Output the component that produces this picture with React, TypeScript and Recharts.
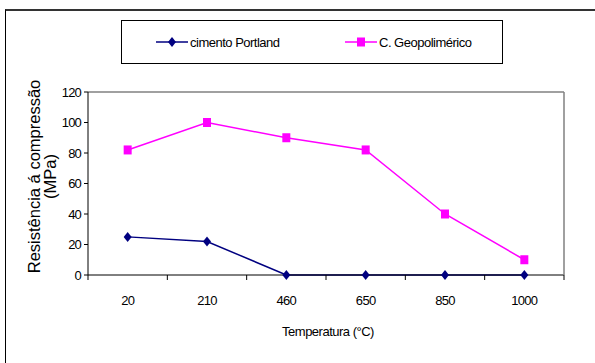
import { LineChart, Line, XAxis, YAxis, Legend, ReferenceLine } from "recharts";

// ── data ──────────────────────────────────────────────
const temperatures = ["20", "210", "460", "650", "850", "1000"];
const portland = [25, 22, 0, 0, 0, 0];
const geopolimerico = [82, 100, 90, 82, 40, 10];
const yTicks = [0, 20, 40, 60, 80, 100, 120];
const seriesNames = ["cimento Portland", "C. Geopolimérico"];
const xTitle = "Temperatura (°C)";
const yTitle = ["Resistência á compressão", "(MPa)"];

const data = temperatures.map((t, i) => ({
  t,
  portland: portland[i],
  geo: geopolimerico[i],
}));

const FONT = "'Liberation Sans', Arial, sans-serif";
const NAVY = "#000080";
const MAGENTA = "#FF00FF";

// ── markers ───────────────────────────────────────────
function Diamond(props: any) {
  const { cx, cy } = props;
  if (cx == null || cy == null) return null;
  return (
    <path
      d={`M${cx},${cy - 5}L${cx + 4},${cy}L${cx},${cy + 5}L${cx - 4},${cy}Z`}
      fill={NAVY}
    />
  );
}

function Square(props: any) {
  const { cx, cy } = props;
  if (cx == null || cy == null) return null;
  return <rect x={cx - 4} y={cy - 4.5} width={8} height={9} fill={MAGENTA} />;
}

// ── axis pieces ───────────────────────────────────────
function XTick(props: any) {
  const { x, y, payload, index, visibleTicksCount } = props;
  const count = visibleTicksCount ?? temperatures.length;
  const band = (typeof props.width === "number" ? props.width : 476) / count;
  const left = x - band / 2;
  return (
    <g>
      <line x1={left} y1={y} x2={left} y2={y + 5} stroke="#000" />
      {index === count - 1 && (
        <line x1={x + band / 2} y1={y} x2={x + band / 2} y2={y + 5} stroke="#000" />
      )}
      <text
        x={x}
        y={y + 25}
        textAnchor="middle"
        dominantBaseline="central"
        fontSize={13}
        letterSpacing={-0.7}
        fontFamily={FONT}
        fill="#000"
      >
        {payload.value}
      </text>
    </g>
  );
}

function XTitle(props: any) {
  const vb = props.viewBox ?? { x: 88, y: 275, width: 476 };
  return (
    <text
      x={vb.x + vb.width / 2 + 2}
      y={vb.y + 56}
      textAnchor="middle"
      dominantBaseline="central"
      fontSize={13}
      letterSpacing={-0.5}
      fontFamily={FONT}
      fill="#000"
    >
      {xTitle}
    </text>
  );
}

function YTitle(props: any) {
  const vb = props.viewBox ?? { x: 0, y: 92, height: 183 };
  const cy = vb.y + vb.height / 2 - 7;
  return (
    <g>
      {yTitle.map((line, i) => {
        const cx = 40 + i * 16;
        return (
          <text
            key={line}
            x={cx}
            y={cy}
            transform={`rotate(-90, ${cx}, ${cy})`}
            textAnchor="middle"
            fontSize={16.5}
            fontFamily={FONT}
            fill="#000"
          >
            {line}
          </text>
        );
      })}
    </g>
  );
}

// ── legend ────────────────────────────────────────────
function LegendBox() {
  const items = [
    { name: seriesNames[0], color: NAVY, shape: "diamond", left: 34 },
    { name: seriesNames[1], color: MAGENTA, shape: "square", left: 223 },
  ];
  return (
    <div
      style={{
        position: "relative",
        width: 382,
        height: 44,
        border: "1px solid #000",
        boxSizing: "border-box",
        background: "#fff",
        fontFamily: FONT,
      }}
    >
      {items.map((it) => (
        <div
          key={it.name}
          style={{
            position: "absolute",
            left: it.left,
            top: 0,
            height: 42,
            display: "flex",
            alignItems: "center",
            whiteSpace: "nowrap",
          }}
        >
          <svg width={32} height={12} style={{ display: "block" }}>
            <line x1={0} y1={6} x2={32} y2={6} stroke={it.color} strokeWidth={1.5} />
            {it.shape === "diamond" ? (
              <path d="M16,1L20,6L16,11L12,6Z" fill={it.color} />
            ) : (
              <rect x={12} y={1.5} width={8} height={9} fill={it.color} />
            )}
          </svg>
          <span style={{ fontSize: 13, letterSpacing: -0.5, marginLeft: 2, color: "#000" }}>
            {it.name}
          </span>
        </div>
      ))}
    </div>
  );
}

export default function App() {
  return (
    <div
      style={{
        position: "absolute",
        left: 0,
        top: 0,
        width: 595,
        height: 363,
        overflow: "hidden",
        background: "#fff",
        fontFamily: FONT,
      }}
    >
      {/* outer frame */}
      <div
        style={{
          position: "absolute",
          left: 5,
          top: 9,
          width: 700,
          height: 500,
          borderTop: "2px solid #333",
          borderLeft: "1px solid #000",
        }}
      />
      <LineChart
        width={595}
        height={363}
        data={data}
        margin={{ top: 92, right: 30, bottom: 0, left: 0 }}
        style={{ position: "absolute", left: 0, top: 0 }}
      >
        <ReferenceLine y={120} stroke="#808080" strokeWidth={1.5} />
        <XAxis
          dataKey="t"
          scale="band"
          height={88}
          axisLine={{ stroke: "#000" }}
          tickLine={false}
          tickSize={0}
          tickMargin={0}
          interval={0}
          tick={<XTick />}
          label={{ content: <XTitle /> }}
        />
        <YAxis
          width={88}
          domain={[0, 120]}
          ticks={yTicks}
          interval={0}
          tickSize={4}
          tickMargin={3}
          axisLine={{ stroke: "#000" }}
          tickLine={{ stroke: "#000" }}
          tick={{ fontSize: 13, fill: "#000", letterSpacing: -0.8, fontFamily: FONT }}
          label={{ content: <YTitle /> }}
        />
        <YAxis
          yAxisId="right"
          orientation="right"
          width={1}
          domain={[0, 120]}
          tick={false}
          tickLine={false}
          axisLine={{ stroke: "#808080", strokeWidth: 1.5 }}
        />
        <Legend
          layout="horizontal"
          verticalAlign="middle"
          align="center"
          content={<LegendBox />}
          wrapperStyle={{ left: 121, top: 20, width: 382, height: 44 }}
        />
        <Line
          name={seriesNames[0]}
          dataKey="portland"
          stroke={NAVY}
          strokeWidth={1.5}
          dot={<Diamond />}
          activeDot={false}
          isAnimationActive={false}
        />
        <Line
          name={seriesNames[1]}
          dataKey="geo"
          stroke={MAGENTA}
          strokeWidth={1.5}
          dot={<Square />}
          activeDot={false}
          isAnimationActive={false}
        />
      </LineChart>
    </div>
  );
}
